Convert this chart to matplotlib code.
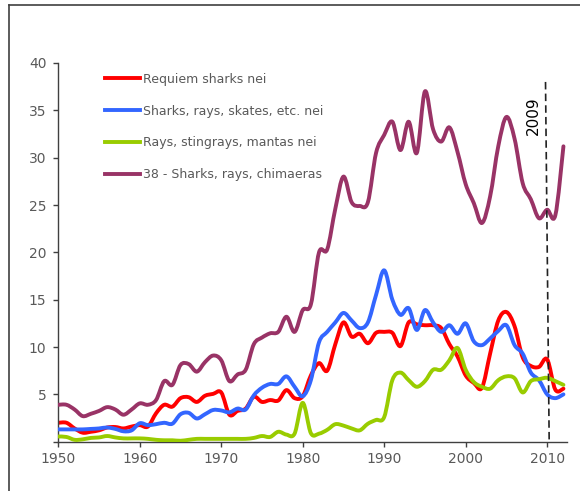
import numpy as np
import matplotlib
matplotlib.use('Agg')
import matplotlib.pyplot as plt
from matplotlib.path import Path
from matplotlib.patches import PathPatch
from matplotlib.lines import Line2D

years = list(range(1950, 2013))

requiem = [2.0, 2.0, 1.4, 0.95, 1.05, 1.2, 1.5, 1.55, 1.4, 1.6,
           1.75, 1.6, 3.0, 3.9, 3.7, 4.6, 4.7, 4.2, 4.85, 5.05,
           5.2, 2.85, 3.25, 3.5, 4.75, 4.2, 4.4, 4.35, 5.45, 4.6,
           4.8, 7.0, 8.3, 7.5, 10.3, 12.6, 11.1, 11.4, 10.4, 11.5,
           11.6, 11.5, 10.1, 12.6, 12.4, 12.3, 12.3, 12.0, 10.3, 9.0,
           7.0, 6.2, 5.7, 9.3, 12.8, 13.7, 12.2, 8.9, 8.0, 7.9,
           8.7, 5.5, 5.6]

sharks_etc = [1.3, 1.3, 1.3, 1.3, 1.35, 1.4, 1.5, 1.35, 1.1, 1.2,
              1.95, 1.75, 1.85, 2.0, 1.9, 2.9, 3.05, 2.45, 2.9, 3.35,
              3.3, 3.1, 3.5, 3.4, 4.9, 5.7, 6.1, 6.1, 6.9, 5.8,
              4.8, 6.5, 10.5, 11.6, 12.6, 13.6, 12.8, 12.0, 12.6, 15.5,
              18.1, 15.0, 13.4, 14.1, 11.8, 13.9, 12.6, 11.6, 12.3, 11.4,
              12.5, 10.6, 10.2, 10.9, 11.7, 12.3, 10.2, 9.3, 7.3, 6.5,
              5.0, 4.6, 5.0]

rays = [0.55, 0.5, 0.2, 0.25, 0.4, 0.45, 0.6, 0.45, 0.35, 0.35,
        0.35, 0.3, 0.2, 0.15, 0.15, 0.1, 0.2, 0.3, 0.3, 0.3,
        0.3, 0.3, 0.3, 0.3, 0.4, 0.6, 0.5, 1.05, 0.75, 0.85,
        4.1, 0.9, 0.85, 1.25, 1.85, 1.7, 1.4, 1.2, 1.9, 2.3,
        2.6, 6.5, 7.3, 6.5, 5.8, 6.4, 7.6, 7.6, 8.6, 9.9,
        7.6, 6.3, 5.8, 5.6, 6.5, 6.9, 6.7, 5.2, 6.4, 6.6,
        6.75, 6.4, 6.0]

total38 = [3.9, 3.9, 3.4, 2.7, 2.95, 3.25, 3.65, 3.4, 2.85, 3.4,
           4.05, 3.9, 4.4, 6.4, 6.0, 8.1, 8.2, 7.4, 8.4, 9.1,
           8.6, 6.4, 7.1, 7.6, 10.3, 11.0, 11.45, 11.6, 13.2, 11.6,
           13.9, 14.5, 20.0, 20.3, 24.6, 28.0, 25.3, 24.9, 25.3, 30.5,
           32.4, 33.8, 30.8, 33.8, 30.5, 37.0, 33.0, 31.7, 33.2, 30.6,
           27.2, 25.2, 23.1, 25.9, 31.2, 34.3, 32.0, 27.3, 25.6, 23.6,
           24.5, 23.9, 31.2]

labels = ['Requiem sharks nei', 'Sharks, rays, skates, etc. nei',
          'Rays, stingrays, mantas nei', '38 - Sharks, rays, chimaeras']
colors = ['#ff0000', '#3366ff', '#99cc00', '#993366']
xticks = [1950, 1960, 1970, 1980, 1990, 2000, 2010]
yticks = [0, 5, 10, 15, 20, 25, 30, 35, 40]


def smooth_path(x, y):
    # excel style smoothed line, catmull-rom as bezier
    x = np.asarray(x, float)
    y = np.asarray(y, float)
    px = np.r_[x[0], x, x[-1]]
    py = np.r_[y[0], y, y[-1]]
    verts = [(x[0], y[0])]
    codes = [Path.MOVETO]
    for i in range(1, len(px) - 2):
        c1 = (px[i] + (px[i + 1] - px[i - 1]) / 6, py[i] + (py[i + 1] - py[i - 1]) / 6)
        c2 = (px[i + 1] - (px[i + 2] - px[i]) / 6, py[i + 1] - (py[i + 2] - py[i]) / 6)
        verts += [c1, c2, (px[i + 1], py[i + 1])]
        codes += [Path.CURVE4] * 3
    return Path(verts, codes)


fig = plt.figure(figsize=(5.8, 4.91), dpi=100)
ax = fig.add_axes([58.3 / 580, 49.3 / 491, 508.4 / 580, 378.7 / 491])

series = [requiem, sharks_etc, rays, total38]
handles = []
for k, (vals, c, lab) in enumerate(zip(series, colors, labels)):
    patch = PathPatch(smooth_path(years, vals), facecolor='none', edgecolor=c,
                      lw=2.8, capstyle='round', joinstyle='round', zorder=2 + k)
    ax.add_patch(patch)
    handles.append(Line2D([], [], color=c, lw=2.8, label=lab))

# 2009 marker
ax.plot([2009.8, 2010.25], [38, 0], color='#222222', lw=1.2, dashes=(4.5, 2.5), zorder=10)
ax.text(2008.3, 34.4, '2009', rotation=90, ha='center', va='center', fontsize=11, color='black')

ax.set_xlim(1950, 2012.4)
ax.set_ylim(0, 40)
ax.set_xticks(xticks)
ax.set_yticks(yticks)
ax.set_yticklabels([''] + [str(v) for v in yticks[1:]])
for s in ['top', 'right']:
    ax.spines[s].set_visible(False)
for s in ['left', 'bottom']:
    ax.spines[s].set_color('#404040')
    ax.spines[s].set_linewidth(1.0)
ax.tick_params(direction='out', length=3.6, width=1, color='#404040',
               labelcolor='#595959', labelsize=10)
ax.tick_params(axis='y', pad=5)
ax.tick_params(axis='x', pad=4)

leg = ax.legend(handles=handles, loc='upper left', bbox_to_anchor=(0.092, 0.974),
                frameon=False, fontsize=9, handlelength=2.8, handletextpad=0.25,
                labelspacing=1.5, borderpad=0, borderaxespad=0)
for t in leg.get_texts():
    t.set_color('#595959')

# chart frame (only top and left edges show)
fig.add_artist(Line2D([8.5 / 580, 8.5 / 580], [0, 1 - 4.5 / 491], transform=fig.transFigure,
                      color='#404040', lw=1.2))
fig.add_artist(Line2D([8.5 / 580, 1], [1 - 4.5 / 491, 1 - 4.5 / 491], transform=fig.transFigure,
                      color='#404040', lw=1.2))

fig.savefig('out.png', dpi=100)
